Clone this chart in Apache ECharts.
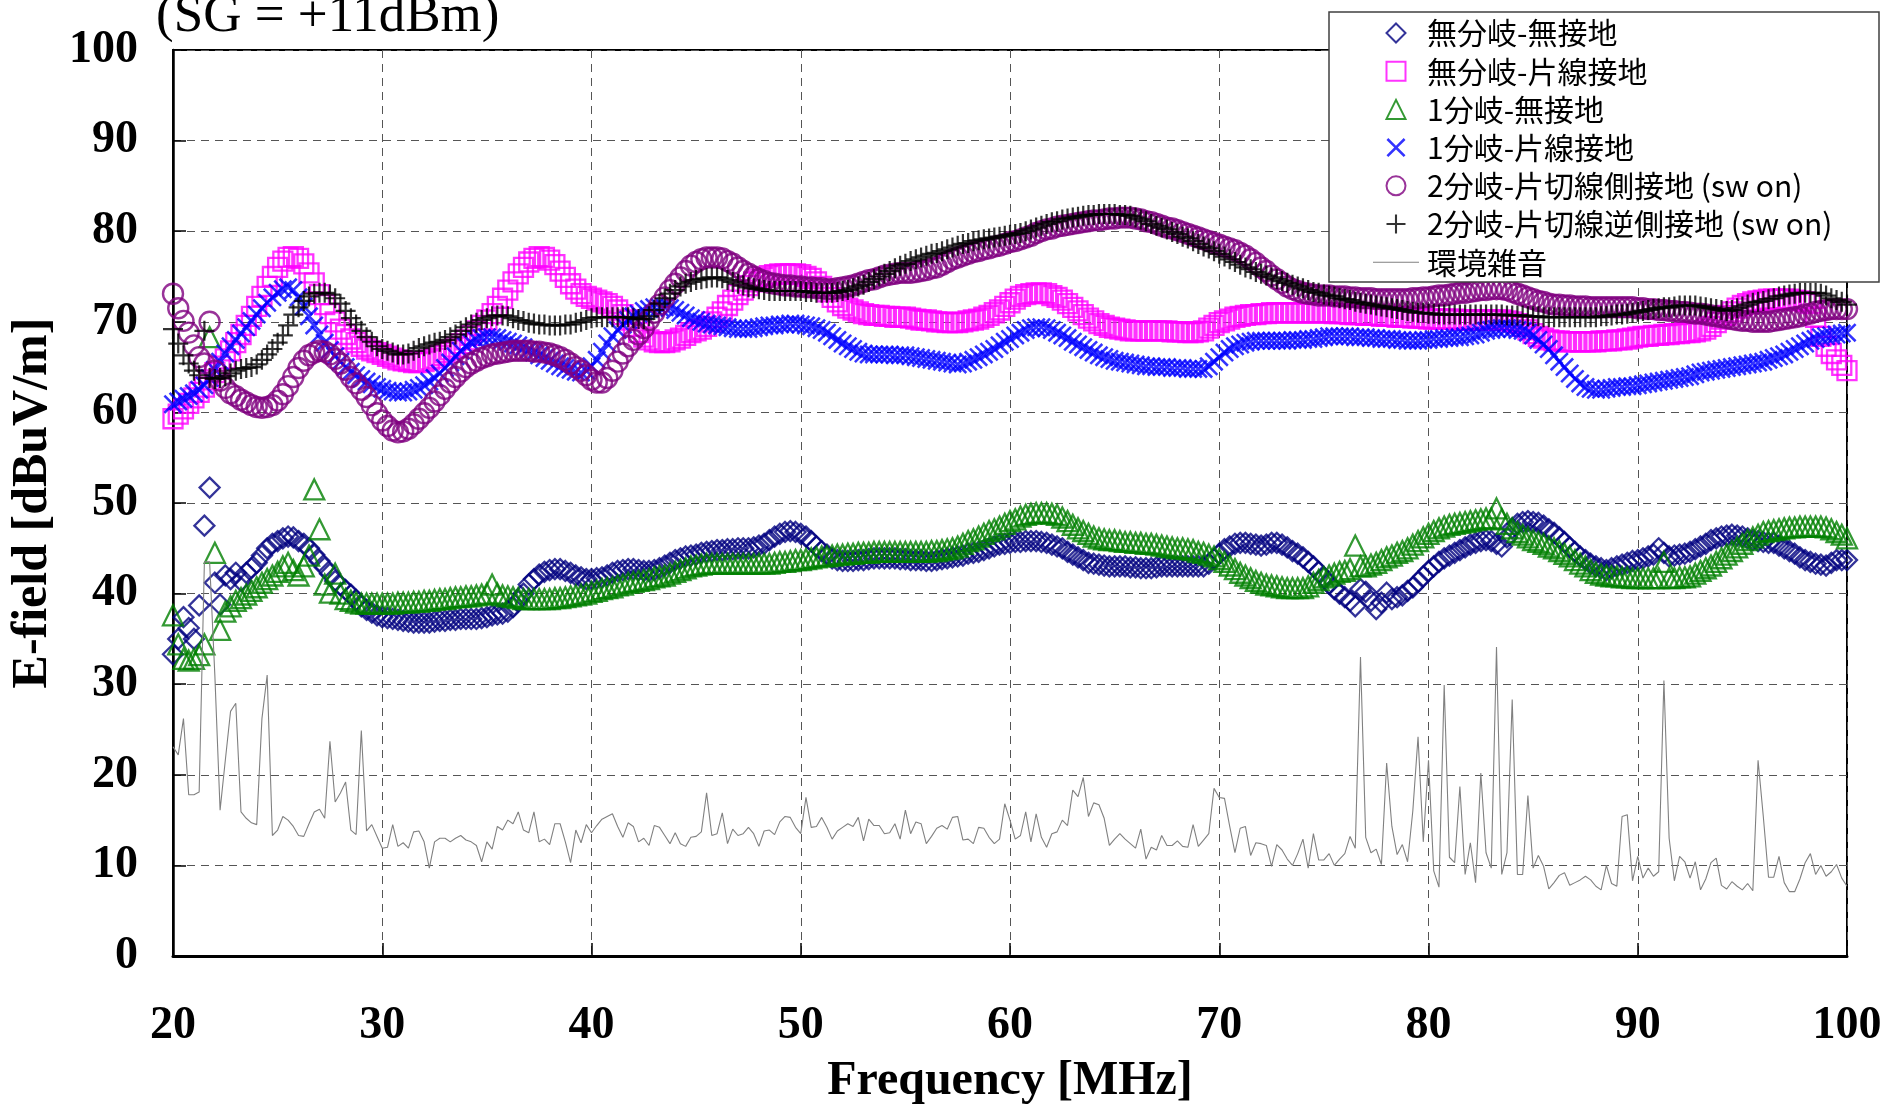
<!DOCTYPE html>
<html>
<head>
<meta charset="utf-8">
<script src="https://cdn.jsdelivr.net/npm/echarts/dist/echarts.min.js"></script>
<style>
  html, body { margin: 0; padding: 0; background: #ffffff; }
  #chart { width: 1883px; height: 1107px; }
</style>
</head>
<body>
<div id="chart"></div>
<script>
// Sweep grid: 20 MHz to 100 MHz in 0.25 MHz steps (321 points per trace)
const FREQ_START = 20;
const FREQ_STEP = 0.25;

const TITLE_TEXT = '(SG = +11dBm)';
const X_NAME = 'Frequency [MHz]';
const Y_NAME = 'E-field [dBuV/m]';

const seriesNames = [
  '無分岐-無接地',
  '無分岐-片線接地',
  '1分岐-無接地',
  '1分岐-片線接地',
  '2分岐-片切線側接地 (sw on)',
  '2分岐-片切線逆側接地 (sw on)',
  '環境雑音'
];

// E-field [dBuV/m], one value per sweep step
const noBranchNoGround = [
  33.3, 35.0, 37.4, 36.2, 35.0, 38.7, 47.5, 51.7, 41.2, 38.8, 42.0, 41.6, 42.3, 41.4, 42.3, 42.8, 43.4, 44.2, 45.0, 45.5,
  45.8, 46.1, 46.3, 46.2, 45.8, 45.5, 45.0, 44.3, 43.6, 42.9, 42.2, 41.4, 40.9, 40.4, 39.9, 39.3, 38.6, 38.2, 37.9, 37.6,
  37.4, 37.3, 37.2, 37.1, 37.0, 36.9, 36.8, 36.8, 36.8, 36.8, 36.9, 37.0, 37.0, 37.1, 37.1, 37.2, 37.2, 37.2, 37.2, 37.3,
  37.4, 37.6, 37.7, 37.8, 38.0, 38.5, 39.2, 40.0, 41.0, 41.6, 42.1, 42.4, 42.6, 42.7, 42.7, 42.5, 42.3, 42.0, 41.8, 41.6,
  41.6, 41.7, 41.8, 42.0, 42.3, 42.5, 42.6, 42.7, 42.7, 42.6, 42.5, 42.5, 42.6, 42.8, 43.1, 43.4, 43.7, 43.9, 44.1, 44.2,
  44.3, 44.5, 44.6, 44.7, 44.8, 44.8, 44.9, 44.9, 45.0, 45.0, 45.0, 45.1, 45.3, 45.5, 45.9, 46.3, 46.6, 46.8, 46.9, 46.8,
  46.6, 46.3, 45.8, 45.2, 44.7, 44.3, 43.9, 43.7, 43.6, 43.6, 43.6, 43.7, 43.7, 43.8, 43.9, 43.9, 43.9, 43.9, 43.9, 43.8,
  43.8, 43.7, 43.7, 43.7, 43.6, 43.6, 43.7, 43.8, 43.9, 44.0, 44.1, 44.2, 44.4, 44.5, 44.6, 44.8, 45.0, 45.2, 45.4, 45.5,
  45.6, 45.7, 45.7, 45.8, 45.8, 45.8, 45.7, 45.6, 45.4, 45.2, 45.0, 44.6, 44.3, 44.0, 43.7, 43.4, 43.3, 43.2, 43.1, 43.0,
  43.0, 43.0, 43.0, 42.9, 42.9, 42.8, 42.8, 42.8, 42.9, 43.0, 43.0, 43.0, 43.0, 43.0, 43.0, 43.0, 43.0, 43.0, 43.3, 43.8,
  44.4, 44.9, 45.2, 45.5, 45.6, 45.6, 45.5, 45.4, 45.3, 45.4, 45.6, 45.6, 45.4, 45.1, 44.7, 44.4, 44.0, 43.5, 43.0, 42.4,
  41.8, 41.1, 40.5, 40.0, 39.6, 39.2, 38.6, 40.5, 40.2, 39.2, 38.3, 39.0, 40.1, 39.4, 39.6, 39.8, 40.3, 40.7, 41.3, 41.9,
  42.5, 43.0, 43.5, 43.9, 44.2, 44.5, 44.8, 45.1, 45.4, 45.6, 45.8, 45.9, 45.8, 45.5, 45.2, 46.2, 47.2, 47.7, 47.9, 48.0,
  47.9, 47.8, 47.5, 47.1, 46.7, 46.2, 45.7, 45.1, 44.6, 44.1, 43.7, 43.3, 43.0, 42.8, 42.6, 42.8, 43.0, 43.2, 43.4, 43.6,
  43.7, 43.9, 44.1, 44.3, 45.0, 44.5, 44.1, 44.2, 44.3, 44.4, 44.6, 44.9, 45.2, 45.5, 45.9, 46.1, 46.3, 46.4, 46.5, 46.4,
  46.3, 46.1, 45.9, 45.8, 45.7, 45.6, 45.6, 45.3, 45.0, 44.7, 44.4, 44.0, 43.7, 43.5, 43.3, 43.2, 43.1, 43.4, 43.7, 43.7,
  43.7
];

const noBranchOneWireGround = [
  59.3, 59.8, 60.4, 61.0, 61.6, 62.2, 62.8, 63.6, 64.4, 65.1, 65.9, 66.8, 67.7, 68.6, 69.6, 70.6, 71.7, 72.8, 73.9, 75.0,
  76.0, 76.7, 77.1, 77.2, 77.0, 76.4, 75.4, 74.3, 73.0, 71.9, 70.9, 70.0, 69.2, 68.6, 68.1, 67.7, 67.3, 67.0, 66.8, 66.6,
  66.4, 66.2, 66.0, 65.8, 65.7, 65.6, 65.5, 65.5, 65.6, 65.8, 66.0, 66.3, 66.6, 66.9, 67.2, 67.6, 68.0, 68.5, 69.0, 69.6,
  70.2, 70.9, 71.7, 72.6, 73.5, 74.4, 75.3, 76.0, 76.6, 77.0, 77.2, 77.1, 76.8, 76.3, 75.6, 74.9, 74.2, 73.6, 73.1, 72.8,
  72.6, 72.4, 72.2, 72.0, 71.7, 71.3, 70.8, 70.2, 69.5, 68.8, 68.3, 68.0, 67.8, 67.7, 67.7, 67.8, 68.0, 68.2, 68.5, 68.8,
  69.0, 69.2, 69.5, 70.0, 70.5, 71.1, 71.8, 72.4, 73.0, 73.5, 74.0, 74.4, 74.7, 74.9, 75.1, 75.2, 75.3, 75.3, 75.3, 75.3,
  75.2, 75.0, 74.8, 74.4, 73.9, 73.3, 72.7, 72.2, 71.8, 71.5, 71.3, 71.1, 70.9, 70.8, 70.7, 70.7, 70.6, 70.6, 70.5, 70.5,
  70.5, 70.4, 70.3, 70.2, 70.2, 70.1, 70.0, 70.0, 69.9, 69.9, 69.9, 70.0, 70.1, 70.2, 70.3, 70.5, 70.7, 71.0, 71.3, 71.7,
  72.1, 72.5, 72.8, 73.0, 73.1, 73.2, 73.2, 73.1, 72.9, 72.7, 72.4, 72.0, 71.6, 71.2, 70.8, 70.4, 70.1, 69.8, 69.6, 69.4,
  69.3, 69.2, 69.1, 69.0, 69.0, 69.0, 69.0, 69.0, 69.0, 69.0, 69.0, 68.9, 68.9, 68.9, 68.8, 68.8, 68.9, 69.0, 69.3, 69.6,
  69.9, 70.1, 70.3, 70.5, 70.6, 70.7, 70.8, 70.8, 70.9, 70.9, 71.0, 71.0, 71.0, 71.0, 71.0, 71.0, 71.0, 71.0, 71.0, 71.0,
  71.0, 71.0, 70.9, 70.9, 70.9, 70.8, 70.8, 70.8, 70.7, 70.7, 70.7, 70.6, 70.6, 70.6, 70.5, 70.5, 70.5, 70.4, 70.4, 70.4,
  70.3, 70.3, 70.3, 70.3, 70.3, 70.3, 70.2, 70.2, 70.2, 70.2, 70.2, 70.2, 70.2, 70.2, 70.2, 70.1, 70.0, 69.8, 69.5, 69.1,
  68.7, 68.4, 68.2, 68.0, 67.9, 67.9, 67.8, 67.8, 67.8, 67.8, 67.8, 67.8, 67.8, 67.9, 67.9, 67.9, 68.0, 68.0, 68.1, 68.2,
  68.3, 68.4, 68.4, 68.5, 68.5, 68.6, 68.6, 68.7, 68.7, 68.8, 68.8, 68.9, 69.0, 69.2, 69.5, 69.9, 70.3, 70.7, 71.1, 71.5,
  71.8, 72.0, 72.2, 72.3, 72.4, 72.5, 72.5, 72.5, 72.5, 72.5, 72.4, 72.3, 72.2, 72.0, 70.5, 68.4, 67.3, 66.5, 65.8, 65.2,
  64.6
];

const oneBranchNoGround = [
  37.6, 34.4, 32.8, 32.6, 32.8, 33.2, 34.4, 68.3, 44.5, 36.0, 38.0, 38.6, 39.2, 39.5, 39.9, 40.3, 40.7, 41.2, 41.6, 42.0,
  42.4, 43.0, 43.4, 42.6, 42.0, 43.0, 44.2, 51.5, 47.1, 41.0, 40.1, 42.2, 40.0, 39.4, 39.2, 39.0, 38.9, 38.9, 38.9, 38.9,
  38.9, 38.9, 38.9, 39.0, 39.0, 39.0, 39.1, 39.1, 39.2, 39.2, 39.3, 39.4, 39.4, 39.5, 39.6, 39.6, 39.7, 39.7, 39.8, 39.9,
  40.0, 41.0, 40.0, 39.8, 39.7, 39.6, 39.5, 39.4, 39.4, 39.4, 39.4, 39.4, 39.4, 39.5, 39.5, 39.6, 39.7, 39.8, 39.9, 40.0,
  40.2, 40.3, 40.5, 40.6, 40.7, 40.9, 41.0, 41.2, 41.3, 41.4, 41.5, 41.6, 41.8, 41.9, 42.0, 42.2, 42.4, 42.6, 42.8, 43.0,
  43.1, 43.2, 43.3, 43.3, 43.3, 43.3, 43.3, 43.3, 43.3, 43.3, 43.3, 43.3, 43.3, 43.3, 43.3, 43.4, 43.5, 43.5, 43.6, 43.7,
  43.7, 43.8, 43.9, 44.0, 44.1, 44.1, 44.2, 44.3, 44.3, 44.4, 44.4, 44.5, 44.5, 44.5, 44.6, 44.6, 44.6, 44.6, 44.6, 44.6,
  44.6, 44.6, 44.6, 44.6, 44.6, 44.7, 44.7, 44.8, 44.9, 45.0, 45.2, 45.5, 45.8, 46.0, 46.3, 46.6, 46.9, 47.1, 47.4, 47.7,
  48.0, 48.2, 48.5, 48.7, 48.8, 48.9, 48.9, 48.9, 48.8, 48.7, 48.4, 48.0, 47.6, 47.2, 46.9, 46.6, 46.3, 46.1, 46.0, 45.9,
  45.9, 45.8, 45.7, 45.7, 45.6, 45.6, 45.5, 45.5, 45.4, 45.3, 45.2, 45.1, 45.0, 45.0, 44.9, 44.8, 44.6, 44.5, 44.3, 44.1,
  43.8, 43.5, 43.1, 42.7, 42.3, 42.0, 41.7, 41.4, 41.2, 41.0, 40.9, 40.8, 40.7, 40.6, 40.6, 40.6, 40.6, 40.8, 41.2, 41.5,
  41.8, 42.0, 42.2, 42.4, 42.5, 42.7, 45.3, 43.0, 43.0, 43.2, 43.4, 43.7, 44.0, 44.2, 44.5, 44.7, 45.0, 45.4, 45.8, 46.2,
  46.6, 46.9, 47.2, 47.4, 47.6, 47.7, 47.8, 47.9, 48.0, 48.1, 48.2, 48.3, 48.3, 49.4, 48.2, 47.7, 47.2, 46.8, 46.5, 46.2,
  45.9, 45.7, 45.5, 45.2, 45.0, 44.7, 44.4, 44.1, 43.7, 43.3, 43.0, 42.6, 42.3, 42.1, 42.0, 41.9, 41.9, 41.8, 41.8, 41.7,
  41.7, 41.7, 41.7, 41.7, 41.7, 43.5, 41.7, 41.7, 41.8, 41.8, 41.9, 42.2, 42.5, 42.8, 43.1, 43.5, 43.9, 44.3, 44.7, 45.1,
  45.5, 45.9, 46.2, 46.5, 46.8, 46.9, 47.0, 47.1, 47.2, 47.3, 47.3, 47.4, 47.4, 47.4, 47.4, 47.4, 47.3, 47.1, 46.8, 46.5,
  46.1
];

const oneBranchOneWireGround = [
  60.9, 61.2, 61.5, 61.8, 62.1, 62.5, 63.0, 63.8, 64.7, 65.6, 66.5, 67.3, 68.0, 68.7, 69.4, 70.1, 70.8, 71.5, 72.1, 72.7,
  73.2, 73.6, 73.8, 73.5, 72.7, 71.7, 70.6, 69.6, 68.6, 67.7, 66.9, 66.2, 65.6, 65.0, 64.5, 64.1, 63.7, 63.4, 63.1, 62.8,
  62.6, 62.4, 62.3, 62.2, 62.2, 62.3, 62.5, 62.7, 63.0, 63.4, 63.8, 64.3, 64.9, 65.5, 66.2, 66.8, 67.3, 67.7, 68.0, 68.2,
  68.3, 68.3, 68.2, 68.0, 67.8, 67.6, 67.4, 67.2, 66.9, 66.6, 66.3, 66.0, 65.7, 65.4, 65.1, 64.9, 64.7, 64.5, 64.4, 64.6,
  65.1, 65.8, 66.7, 67.6, 68.4, 69.1, 69.7, 70.2, 70.6, 70.9, 71.2, 71.4, 71.6, 71.6, 71.6, 71.5, 71.3, 71.0, 70.7, 70.4,
  70.2, 70.0, 69.8, 69.7, 69.6, 69.5, 69.4, 69.3, 69.2, 69.2, 69.2, 69.3, 69.4, 69.5, 69.6, 69.6, 69.7, 69.7, 69.8, 69.8,
  69.7, 69.6, 69.5, 69.3, 69.1, 68.8, 68.4, 68.0, 67.6, 67.3, 67.0, 66.7, 66.5, 66.4, 66.4, 66.4, 66.4, 66.4, 66.3, 66.3,
  66.3, 66.2, 66.1, 66.0, 65.9, 65.8, 65.7, 65.6, 65.5, 65.4, 65.3, 65.4, 65.6, 65.8, 66.1, 66.4, 66.7, 67.0, 67.4, 67.8,
  68.1, 68.5, 68.8, 69.1, 69.3, 69.4, 69.4, 69.3, 69.1, 68.8, 68.5, 68.2, 67.8, 67.5, 67.2, 66.9, 66.6, 66.3, 66.1, 65.9,
  65.7, 65.6, 65.5, 65.4, 65.3, 65.2, 65.1, 65.1, 65.0, 65.0, 65.0, 64.9, 64.9, 64.9, 64.8, 64.8, 64.8, 64.8, 65.1, 65.6,
  66.1, 66.6, 67.0, 67.3, 67.5, 67.7, 67.8, 67.9, 67.9, 67.9, 67.9, 67.9, 67.9, 67.9, 68.0, 68.0, 68.0, 68.1, 68.1, 68.2,
  68.3, 68.4, 68.4, 68.4, 68.4, 68.4, 68.3, 68.3, 68.3, 68.2, 68.2, 68.1, 68.1, 68.1, 68.0, 68.0, 67.9, 67.9, 67.9, 68.0,
  68.0, 68.1, 68.1, 68.2, 68.2, 68.3, 68.3, 68.4, 68.5, 68.6, 68.8, 69.0, 69.1, 69.2, 69.3, 69.3, 69.2, 69.1, 69.0, 68.8,
  68.5, 68.0, 67.5, 67.0, 66.3, 65.6, 65.0, 64.3, 63.7, 63.2, 62.8, 62.6, 62.5, 62.5, 62.6, 62.7, 62.8, 62.8, 62.9, 62.9,
  63.0, 63.1, 63.2, 63.3, 63.4, 63.5, 63.6, 63.7, 63.8, 63.9, 64.0, 64.2, 64.4, 64.5, 64.6, 64.7, 64.8, 64.9, 65.0, 65.1,
  65.2, 65.3, 65.4, 65.5, 65.6, 65.8, 66.0, 66.2, 66.4, 66.7, 67.0, 67.3, 67.6, 67.9, 68.1, 68.3, 68.4, 68.5, 68.6, 68.7,
  68.8
];

const twoBranchCutSideGround = [
  73.1, 71.5, 70.1, 68.8, 67.4, 66.1, 65.4, 70.0, 64.6, 63.5, 62.7, 62.1, 61.8, 61.4, 61.1, 60.8, 60.6, 60.5, 60.6, 60.8,
  61.3, 62.0, 62.9, 63.9, 64.9, 65.7, 66.3, 66.6, 66.8, 66.7, 66.4, 65.9, 65.4, 64.7, 63.9, 63.2, 62.5, 61.7, 60.8, 59.9,
  59.1, 58.5, 58.0, 57.8, 57.9, 58.2, 58.7, 59.3, 59.9, 60.5, 61.2, 61.9, 62.6, 63.3, 63.9, 64.5, 65.0, 65.4, 65.7, 66.0,
  66.2, 66.4, 66.5, 66.6, 66.7, 66.8, 66.8, 66.8, 66.8, 66.7, 66.7, 66.6, 66.5, 66.3, 66.1, 65.8, 65.4, 65.0, 64.6, 64.1,
  63.6, 63.3, 63.3, 63.8, 64.6, 65.6, 66.5, 67.3, 68.0, 68.6, 69.3, 70.2, 71.0, 71.9, 72.7, 73.5, 74.2, 74.9, 75.6, 76.2,
  76.6, 76.9, 77.1, 77.1, 77.1, 77.0, 76.7, 76.4, 76.0, 75.6, 75.3, 75.0, 74.7, 74.5, 74.3, 74.2, 74.1, 74.0, 74.0, 73.9,
  73.9, 73.8, 73.8, 73.7, 73.7, 73.6, 73.6, 73.7, 73.8, 73.9, 74.0, 74.2, 74.4, 74.6, 74.7, 74.9, 75.1, 75.2, 75.3, 75.4,
  75.4, 75.4, 75.5, 75.6, 75.7, 75.9, 76.0, 76.3, 76.6, 76.9, 77.1, 77.3, 77.5, 77.7, 77.8, 78.0, 78.1, 78.3, 78.4, 78.6,
  78.8, 78.9, 79.1, 79.3, 79.5, 79.8, 80.0, 80.2, 80.3, 80.5, 80.6, 80.7, 80.8, 80.9, 81.0, 81.1, 81.2, 81.2, 81.3, 81.4,
  81.4, 81.5, 81.5, 81.5, 81.4, 81.3, 81.1, 81.0, 80.8, 80.6, 80.4, 80.3, 80.1, 79.9, 79.7, 79.5, 79.3, 79.1, 78.9, 78.7,
  78.5, 78.3, 78.1, 77.9, 77.6, 77.3, 76.9, 76.5, 76.0, 75.6, 75.1, 74.7, 74.3, 73.9, 73.6, 73.4, 73.2, 73.1, 73.0, 72.9,
  72.9, 72.9, 72.8, 72.8, 72.8, 72.7, 72.7, 72.6, 72.6, 72.6, 72.5, 72.5, 72.5, 72.5, 72.5, 72.5, 72.5, 72.6, 72.6, 72.7,
  72.7, 72.8, 72.9, 72.9, 73.0, 73.1, 73.2, 73.2, 73.3, 73.4, 73.5, 73.5, 73.6, 73.6, 73.6, 73.5, 73.3, 73.1, 72.9, 72.7,
  72.5, 72.3, 72.2, 72.0, 71.9, 71.9, 71.8, 71.8, 71.7, 71.7, 71.7, 71.6, 71.6, 71.6, 71.6, 71.6, 71.6, 71.6, 71.6, 71.6,
  71.5, 71.5, 71.4, 71.4, 71.3, 71.3, 71.2, 71.2, 71.1, 71.1, 71.0, 70.9, 70.9, 70.8, 70.7, 70.6, 70.5, 70.4, 70.3, 70.2,
  70.1, 70.1, 70.0, 70.0, 70.0, 70.0, 70.1, 70.2, 70.3, 70.4, 70.5, 70.6, 70.8, 70.9, 71.1, 71.2, 71.3, 71.4, 71.4, 71.4,
  71.4
];

const twoBranchOppositeSideGround = [
  69.2, 67.6, 66.3, 65.4, 64.6, 64.1, 69.0, 63.8, 63.7, 63.8, 64.0, 64.3, 64.6, 64.8, 64.9, 65.0, 65.3, 65.8, 66.4, 67.0,
  67.7, 68.5, 69.6, 70.8, 71.6, 72.3, 72.8, 73.1, 73.2, 73.2, 73.0, 72.6, 72.0, 71.2, 70.4, 69.7, 69.0, 68.3, 67.8, 67.3,
  67.0, 66.8, 66.6, 66.4, 66.4, 66.5, 66.8, 67.1, 67.3, 67.5, 67.7, 67.8, 68.0, 68.3, 68.6, 69.0, 69.4, 69.7, 69.9, 70.2,
  70.4, 70.6, 70.7, 70.7, 70.6, 70.4, 70.2, 70.1, 69.9, 69.8, 69.7, 69.7, 69.6, 69.6, 69.6, 69.7, 69.7, 69.9, 70.0, 70.2,
  70.4, 70.5, 70.5, 70.5, 70.5, 70.5, 70.5, 70.5, 70.4, 70.3, 70.3, 70.6, 71.3, 72.0, 72.6, 73.1, 73.5, 73.9, 74.2, 74.4,
  74.6, 74.7, 74.8, 74.9, 74.9, 74.8, 74.6, 74.4, 74.2, 74.0, 73.8, 73.7, 73.6, 73.5, 73.4, 73.4, 73.4, 73.4, 73.4, 73.4,
  73.4, 73.3, 73.3, 73.2, 73.2, 73.2, 73.2, 73.3, 73.4, 73.5, 73.7, 73.9, 74.1, 74.4, 74.7, 75.0, 75.3, 75.6, 75.9, 76.2,
  76.4, 76.7, 76.9, 77.1, 77.3, 77.5, 77.6, 77.8, 78.0, 78.2, 78.4, 78.6, 78.7, 78.9, 79.0, 79.1, 79.2, 79.3, 79.4, 79.5,
  79.6, 79.7, 79.8, 80.0, 80.2, 80.4, 80.6, 80.8, 81.0, 81.1, 81.3, 81.4, 81.5, 81.6, 81.7, 81.8, 81.8, 81.9, 81.9, 81.9,
  81.9, 81.8, 81.8, 81.7, 81.5, 81.3, 81.1, 80.8, 80.6, 80.4, 80.2, 79.9, 79.7, 79.4, 79.2, 78.9, 78.6, 78.3, 78.1, 77.8,
  77.5, 77.2, 76.9, 76.6, 76.3, 76.0, 75.8, 75.5, 75.3, 75.1, 74.9, 74.7, 74.5, 74.3, 74.1, 73.9, 73.7, 73.5, 73.3, 73.2,
  73.0, 72.9, 72.8, 72.6, 72.5, 72.4, 72.2, 72.1, 72.0, 71.9, 71.8, 71.7, 71.6, 71.5, 71.4, 71.3, 71.2, 71.1, 71.0, 71.0,
  70.9, 70.9, 70.8, 70.8, 70.8, 70.8, 70.8, 70.8, 70.8, 70.8, 70.8, 70.8, 70.8, 70.8, 70.8, 70.7, 70.7, 70.7, 70.7, 70.6,
  70.6, 70.6, 70.5, 70.5, 70.5, 70.5, 70.5, 70.5, 70.5, 70.5, 70.5, 70.5, 70.5, 70.6, 70.6, 70.7, 70.8, 70.8, 70.9, 71.0,
  71.1, 71.2, 71.3, 71.4, 71.5, 71.6, 71.6, 71.7, 71.8, 71.8, 71.8, 71.8, 71.7, 71.6, 71.5, 71.4, 71.3, 71.2, 71.3, 71.5,
  71.7, 71.9, 72.1, 72.2, 72.3, 72.5, 72.6, 72.8, 72.9, 73.0, 73.1, 73.2, 73.2, 73.2, 73.2, 73.1, 72.9, 72.6, 72.4, 72.2,
  71.9
];

const ambientNoise = [
  23.1, 22.2, 26.2, 17.8, 17.8, 18.1, 43.5, 43.5, 31.0, 16.1, 21.6, 27.0, 27.9, 15.9, 15.2, 14.7, 14.5, 26.2, 31.0, 13.3,
  13.9, 15.4, 15.0, 14.3, 13.3, 13.2, 14.6, 15.9, 16.2, 15.2, 23.7, 17.0, 18.0, 19.2, 13.9, 13.4, 24.9, 13.8, 14.5, 13.2,
  11.9, 12.0, 14.5, 12.1, 12.5, 11.9, 13.7, 13.8, 12.6, 9.7, 12.6, 13.0, 13.0, 12.6, 13.0, 13.3, 12.8, 12.6, 12.2, 10.4,
  12.6, 11.8, 14.3, 13.9, 15.0, 14.6, 15.9, 13.9, 13.6, 15.9, 12.6, 12.9, 12.3, 14.6, 14.6, 12.6, 10.3, 13.9, 12.5, 14.5,
  13.6, 14.4, 15.1, 15.4, 15.7, 14.3, 13.1, 14.7, 14.3, 12.6, 13.0, 12.2, 14.4, 14.2, 13.3, 12.4, 13.6, 12.4, 12.1, 13.1,
  13.2, 13.7, 18.0, 13.3, 13.5, 15.8, 12.4, 14.0, 13.3, 13.5, 14.2, 13.5, 12.1, 13.8, 13.9, 13.4, 14.8, 15.4, 15.3, 14.2,
  13.5, 17.5, 14.2, 14.3, 15.3, 14.2, 12.9, 13.8, 14.2, 14.6, 14.3, 15.3, 12.7, 15.1, 14.4, 14.4, 13.5, 13.6, 14.6, 12.9,
  16.1, 13.5, 14.8, 14.6, 12.4, 13.2, 14.1, 14.4, 14.0, 15.3, 15.4, 12.8, 12.9, 12.4, 14.2, 14.1, 13.1, 12.4, 12.9, 16.8,
  15.0, 12.9, 13.3, 15.9, 12.6, 15.7, 13.1, 12.0, 13.5, 13.7, 15.0, 14.4, 18.3, 17.6, 19.7, 15.4, 16.9, 16.7, 15.2, 12.2,
  12.9, 13.5, 12.9, 12.4, 11.9, 14.0, 10.7, 12.0, 11.7, 13.3, 12.2, 12.2, 12.7, 12.1, 12.0, 14.5, 12.1, 12.8, 13.5, 18.5,
  17.5, 17.4, 14.3, 11.4, 14.1, 14.3, 11.1, 12.5, 12.4, 12.2, 9.9, 12.3, 11.7, 10.7, 10.0, 11.3, 12.9, 9.7, 13.5, 10.6,
  10.6, 11.3, 10.0, 10.7, 11.3, 13.2, 11.9, 33.0, 13.1, 11.4, 11.8, 10.1, 21.3, 14.3, 11.2, 12.3, 10.4, 16.0, 24.2, 12.6,
  21.6, 9.4, 7.6, 29.9, 10.9, 10.3, 18.7, 9.0, 12.5, 8.1, 20.2, 11.4, 9.7, 34.1, 9.0, 11.4, 28.3, 9.0, 9.0, 17.7,
  9.7, 11.1, 9.9, 7.4, 8.1, 8.9, 9.2, 7.8, 8.1, 8.4, 8.8, 8.4, 7.7, 7.3, 10.0, 8.0, 7.7, 15.4, 15.6, 8.3,
  11.0, 8.6, 9.7, 8.8, 9.3, 30.4, 13.0, 8.3, 11.0, 10.4, 8.6, 10.4, 7.3, 8.5, 10.3, 10.8, 7.8, 7.4, 8.2, 7.7,
  7.3, 8.0, 7.2, 21.6, 15.4, 8.7, 8.7, 11.0, 8.1, 7.1, 7.1, 8.5, 10.3, 11.3, 9.0, 10.0, 8.8, 9.3, 10.1, 8.6,
  7.7
];

// Pair each reading with its sweep frequency
function withFreq(values) {
  return values.map((v, i) => [+(FREQ_START + i * FREQ_STEP).toFixed(2), v]);
}

// Marker glyphs; the cross and plus are filled polygons so stroke width stays fixed
const CROSS_PATH = 'path://M0,1.9L1.9,0L10,8.1L18.1,0L20,1.9L11.9,10L20,18.1L18.1,20L10,11.9L1.9,20L0,18.1L8.1,10Z';
const PLUS_PATH = 'path://M8.9,0H11.1V8.9H20V11.1H11.1V20H8.9V11.1H0V8.9H8.9Z';
// Legend icons drawn as paths so they keep a square aspect inside the wide icon slot
const DIAMOND_ICON = 'path://M10,0L20,10L10,20L0,10Z';
const SQUARE_ICON = 'path://M0,0H20V20H0Z';
const TRIANGLE_ICON = 'path://M10,0L20,20H0Z';
const LEGEND_LINE = 'path://M0,0H46V1H0Z';

const SERIF = '"Times New Roman", "Liberation Serif", serif';
const CJK = '"Noto Sans CJK JP", "Noto Sans CJK SC", sans-serif';

function hollow(name, values, symbol, color, size, width) {
  return {
    name, type: 'scatter', data: withFreq(values), symbol, symbolSize: size,
    itemStyle: { color: 'rgba(0,0,0,0)', borderColor: color, borderWidth: width },
    emphasis: { disabled: true }, silent: true
  };
}
function solid(name, values, symbol, color, size) {
  return {
    name, type: 'scatter', data: withFreq(values), symbol, symbolSize: size,
    itemStyle: { color: color, borderWidth: 0 },
    emphasis: { disabled: true }, silent: true
  };
}

const chart = echarts.init(document.getElementById('chart'), null, { renderer: 'canvas' });

chart.setOption({
  animation: false,
  backgroundColor: '#ffffff',
  title: {
    text: TITLE_TEXT,
    left: 156, top: -9, padding: 0,
    textStyle: { fontFamily: SERIF, fontWeight: 'normal', fontSize: 53, color: '#000' }
  },
  grid: {
    left: 173, top: 50, right: 36, bottom: 151,
    show: true, borderColor: '#000', borderWidth: 2, backgroundColor: 'rgba(0,0,0,0)',
    containLabel: false, outerBoundsMode: 'none'
  },
  xAxis: {
    type: 'value', min: 20, max: 100, interval: 10,
    name: X_NAME, nameLocation: 'middle', nameGap: 102,
    nameTextStyle: { fontFamily: SERIF, fontWeight: 'bold', fontSize: 48, color: '#000' },
    axisLine: { show: true, onZero: false, lineStyle: { color: '#000', width: 3 } },
    axisTick: { show: true, inside: true, length: 13, lineStyle: { color: '#000', width: 1.5 } },
    axisLabel: { margin: 47, fontFamily: SERIF, fontWeight: 'bold', fontSize: 46, color: '#000' },
    splitLine: { show: true, lineStyle: { color: '#555', width: 1, type: [8, 6] } }
  },
  yAxis: {
    type: 'value', min: 0, max: 100, interval: 10,
    name: Y_NAME, nameLocation: 'middle', nameGap: 109, nameRotate: 90,
    nameTextStyle: { fontFamily: SERIF, fontWeight: 'bold', fontSize: 50, color: '#000' },
    axisLine: { show: true, onZero: false, lineStyle: { color: '#000', width: 2.5 } },
    axisTick: { show: true, inside: true, length: 13, lineStyle: { color: '#000', width: 1.5 } },
    axisLabel: { margin: 35, fontFamily: SERIF, fontWeight: 'bold', fontSize: 46, color: '#000' },
    splitLine: { show: true, lineStyle: { color: '#555', width: 1, type: [8, 6] } }
  },
  graphic: [{
    type: 'rect', z: 3, silent: true,
    shape: { x: 1329, y: 12, width: 550, height: 270 },
    style: { fill: '#ffffff', stroke: '#404040', lineWidth: 1.5 }
  }],
  legend: {
    orient: 'vertical', left: 1329, top: 12,
    padding: [6, 10, 5, 44],
    itemWidth: 46, itemHeight: 19, itemGap: 8.2,
    symbolKeepAspect: true,
    selectedMode: false, z: 5,
    textStyle: { fontFamily: CJK, fontSize: 30, lineHeight: 30, color: '#000', padding: [0, 0, 0, 3] },
    data: [
      { name: seriesNames[0], icon: DIAMOND_ICON },
      { name: seriesNames[1], icon: SQUARE_ICON },
      { name: seriesNames[2], icon: TRIANGLE_ICON },
      { name: seriesNames[3] },
      { name: seriesNames[4] },
      { name: seriesNames[5] },
      { name: seriesNames[6], icon: LEGEND_LINE }
    ]
  },
  series: [
    hollow(seriesNames[0], noBranchNoGround, 'diamond', '#000080', 20, 2.3),
    hollow(seriesNames[1], noBranchOneWireGround, 'rect', '#ff00ff', 19, 2.3),
    hollow(seriesNames[2], oneBranchNoGround, 'triangle', '#008000', 20, 2.3),
    solid(seriesNames[3], oneBranchOneWireGround, CROSS_PATH, '#0000ff', 19),
    hollow(seriesNames[4], twoBranchCutSideGround, 'circle', '#800080', 20, 2.4),
    solid(seriesNames[5], twoBranchOppositeSideGround, PLUS_PATH, '#000000', 20),
    {
      name: seriesNames[6], type: 'line', data: withFreq(ambientNoise),
      symbol: 'none', silent: true,
      lineStyle: { color: '#808080', width: 1.1 },
      itemStyle: { color: '#808080' },
      emphasis: { disabled: true }
    }
  ]
});
</script>
</body>
</html>
